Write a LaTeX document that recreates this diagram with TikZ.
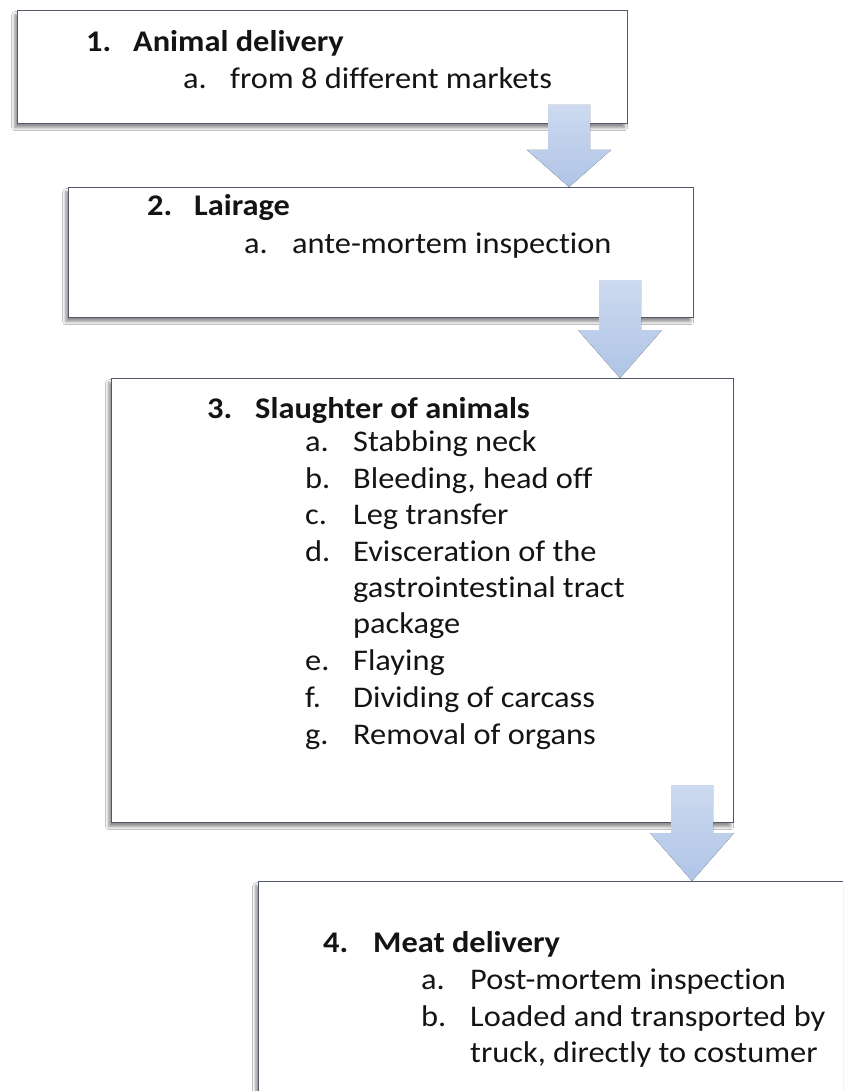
\documentclass[tikz,border=0pt]{standalone}
\usepackage{fontspec}
\setmainfont[FakeStretch=1.08,Ligatures={NoCommon,NoRequired,NoContextual}]{Carlito}
\usetikzlibrary{shadows.blur}
\definecolor{boxline}{RGB}{80,88,105}
\definecolor{arrtop}{RGB}{205,218,240}
\definecolor{arrbot}{RGB}{175,196,230}
\definecolor{txtc}{RGB}{20,20,20}
\tikzset{
  box/.style={draw=boxline, line width=1.4pt, fill=white, inner sep=0pt, anchor=north west,
    blur shadow={shadow xshift=-3pt, shadow yshift=-4pt, shadow blur radius=3pt, shadow opacity=45}},
  txt/.style={anchor=base west, inner sep=0pt, text=txtc, font=\fontsize{30}{36}\selectfont},
  ttl/.style={txt, font=\fontsize{30}{36}\selectfont\bfseries},
  blockarrow/.style={top color=arrtop, bottom color=arrbot, draw=none}
}
\begin{document}
\begin{tikzpicture}[x=1pt,y=-1pt]
\useasboundingbox (0,0) rectangle (843,1091);
\clip (0,0) rectangle (843,1091);
\fill[white] (0,0) rectangle (843,1091);
% boxes
\node[box, minimum width=610pt, minimum height=113pt] (b1) at (17,10) {};
\node[box, minimum width=625pt, minimum height=130pt] (b2) at (68,187) {};
\node[box, minimum width=622pt, minimum height=444pt] (b3) at (111,378) {};
\node[box, minimum width=620pt, minimum height=240pt] (b4) at (258,881) {};
% box 1 text
\node[ttl] (n1) at (86,52) {1.};
\node[ttl] (h1) at (133,52) {Animal delivery};
\node[txt] (n1a) at (183,89) {a.};
\node[txt] (i1a) at (230,89) {from 8 different markets};
% box 2 text
\node[ttl] (n2) at (147,216) {2.};
\node[ttl] (h2) at (194,216) {Lairage};
\node[txt] (n2a) at (244,253) {a.};
\node[txt] (i2a) at (292,253) {ante-mortem inspection};
% box 3 text
\node[ttl] (n3) at (207,418) {3.};
\node[ttl] (h3) at (255,418) {Slaughter of animals};
\node[txt] (n3a) at (305,451) {a.};
\node[txt] (i3a) at (353,451) {Stabbing neck};
\node[txt] (n3b) at (305,488) {b.};
\node[txt] (i3b) at (353,488) {Bleeding, head off};
\node[txt] (n3c) at (305,524) {c.};
\node[txt] (i3c) at (353,524) {Leg transfer};
\node[txt] (n3d) at (305,561) {d.};
\node[txt] (i3d) at (353,561) {Evisceration of the};
\node[txt] (i3d2) at (353,597) {gastrointestinal tract};
\node[txt] (i3d3) at (353,633) {package};
\node[txt] (n3e) at (305,670) {e.};
\node[txt] (i3e) at (353,670) {Flaying};
\node[txt] (n3f) at (305,707) {f.};
\node[txt] (i3f) at (353,707) {Dividing of carcass};
\node[txt] (n3g) at (305,744) {g.};
\node[txt] (i3g) at (353,744) {Removal of organs};
% box 4 text
\node[ttl] (n4) at (323,952) {4.};
\node[ttl] (h4) at (373,952) {Meat delivery};
\node[txt] (n4a) at (421,989) {a.};
\node[txt] (i4a) at (470,989) {Post-mortem inspection};
\node[txt] (n4b) at (421,1026) {b.};
\node[txt] (i4b) at (470,1026) {Loaded and transported by};
\node[txt] (i4b2) at (470,1062) {truck, directly to costumer};
% arrows
\coordinate (tip1) at (569,187);
\coordinate (tip2) at (620,378);
\coordinate (tip3) at (692,881);
\fill[blockarrow, shift={(tip1)}] (-21,-82) -- (21,-82) -- (21,-37) -- (42,-37) -- (0,0) -- (-42,-37) -- (-21,-37) -- cycle;
\fill[blockarrow, shift={(tip2)}] (-21,-98) -- (21,-98) -- (21,-48) -- (42,-48) -- (0,0) -- (-42,-48) -- (-21,-48) -- cycle;
\fill[blockarrow, shift={(tip3)}] (-21,-96) -- (21,-96) -- (21,-48) -- (42,-48) -- (0,0) -- (-42,-48) -- (-21,-48) -- cycle;
\end{tikzpicture}
\end{document}
